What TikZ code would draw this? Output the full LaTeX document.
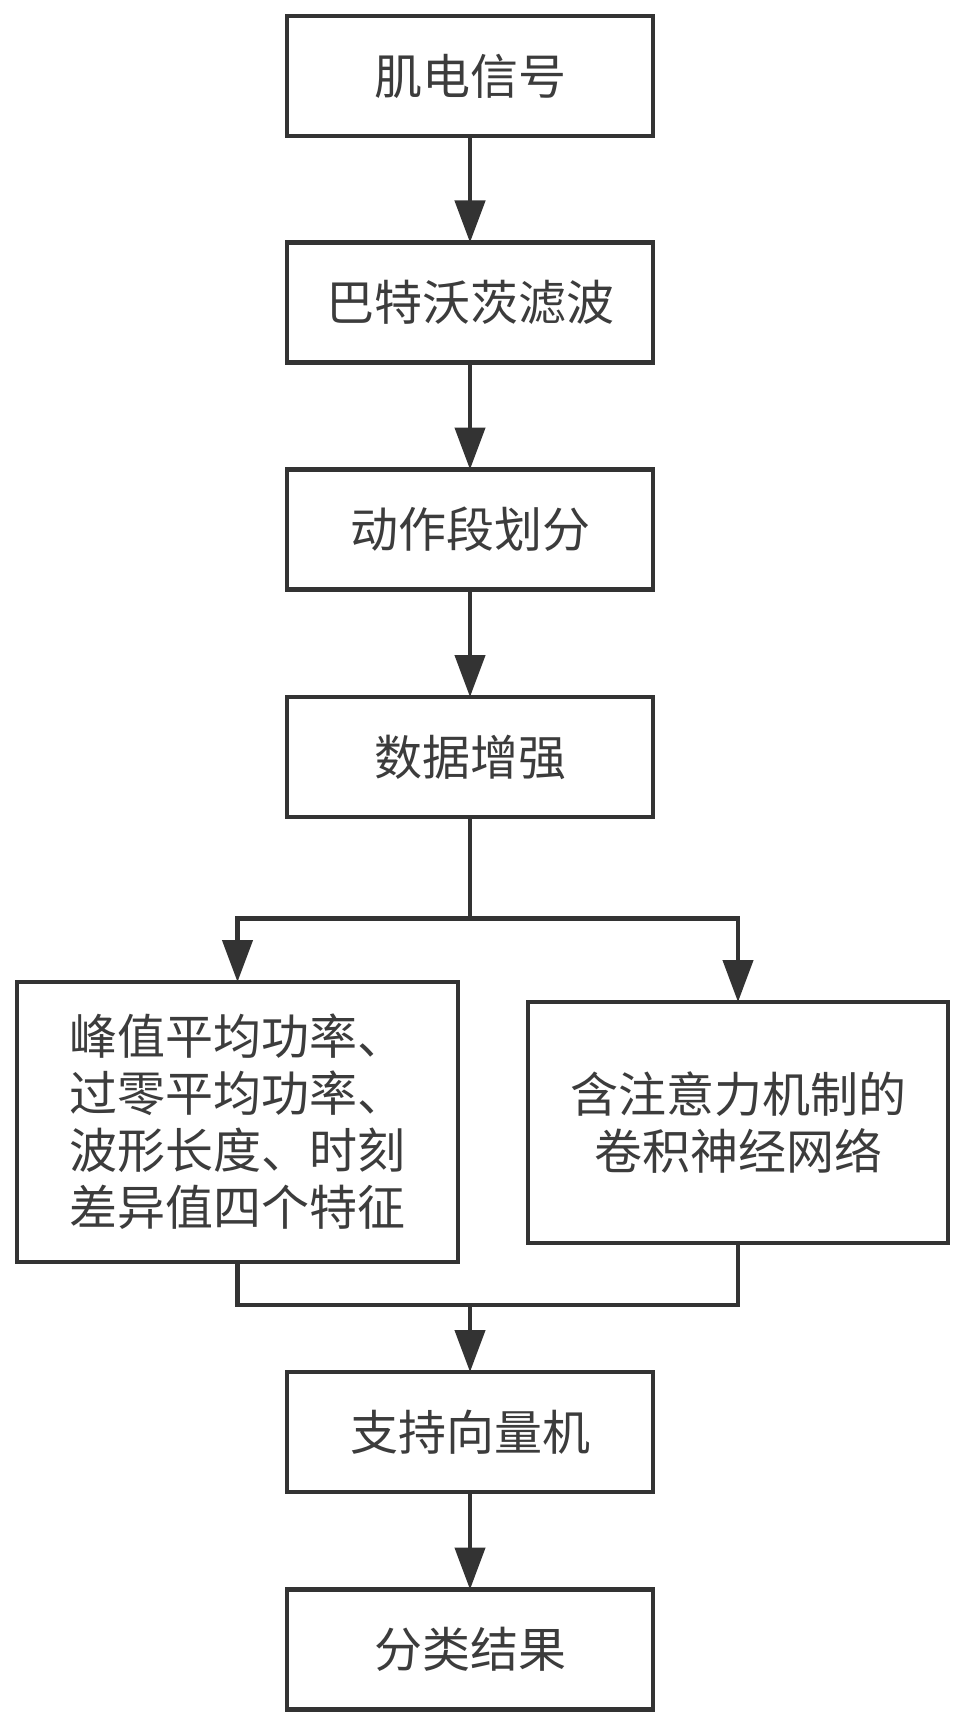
\documentclass[tikz,border=0pt]{standalone}
\usepackage{fontspec}
\setmainfont{Noto Sans CJK SC}
\usetikzlibrary{arrows.meta}
\definecolor{ink}{RGB}{51,51,51}
\definecolor{txt}{RGB}{60,60,60}
\tikzset{
  box/.style={draw=ink, line width=2.4pt, fill=white, inner sep=0pt, outer sep=0pt,
    font=\fontsize{24pt}{28.5pt}\selectfont, text=txt},
  mainbox/.style={box, minimum width=183pt, minimum height=60pt},
  conn/.style={draw=ink, line width=2.2pt},
  arr/.style={conn, -{Triangle[length=21pt,width=15pt]}},
}
\begin{document}
\begin{tikzpicture}[x=0.5pt,y=-0.5pt]
\useasboundingbox[fill=white] (0,0) rectangle (966,1728);
\node[mainbox] (b1) at (470,76) {肌电信号};
\node[mainbox] (b2) at (470,302.5) {巴特沃茨滤波};
\node[mainbox] (b3) at (470,529.5) {动作段划分};
\node[mainbox] (b4) at (470,757) {数据增强};
\node[box, minimum width=220.5pt, minimum height=140pt, align=left] (lf) at (237.5,1122)
  {峰值平均功率、\\过零平均功率、\\波形长度、时刻\\差异值四个特征};
\node[box, minimum width=210pt, minimum height=120.5pt, align=center] (rt) at (738,1122.5)
  {含注意力机制的\\卷积神经网络};
\node[mainbox] (svm) at (470,1432) {支持向量机};
\node[mainbox] (res) at (470,1649.5) {分类结果};
\coordinate (split) at (470,918.5);
\coordinate (merge) at (470,1305);
\draw[arr] (b1) -- (b2);
\draw[arr] (b2) -- (b3);
\draw[arr] (b3) -- (b4);
\draw[conn] (b4.south) -- (split);
\draw[arr] (split) -| (lf.north);
\draw[arr] (split) -| (rt.north);
\draw[conn] (lf.south) |- (merge);
\draw[conn] (rt.south) |- (merge);
\draw[arr] (merge) -- (svm.north);
\draw[arr] (svm) -- (res);
\end{tikzpicture}
\end{document}
